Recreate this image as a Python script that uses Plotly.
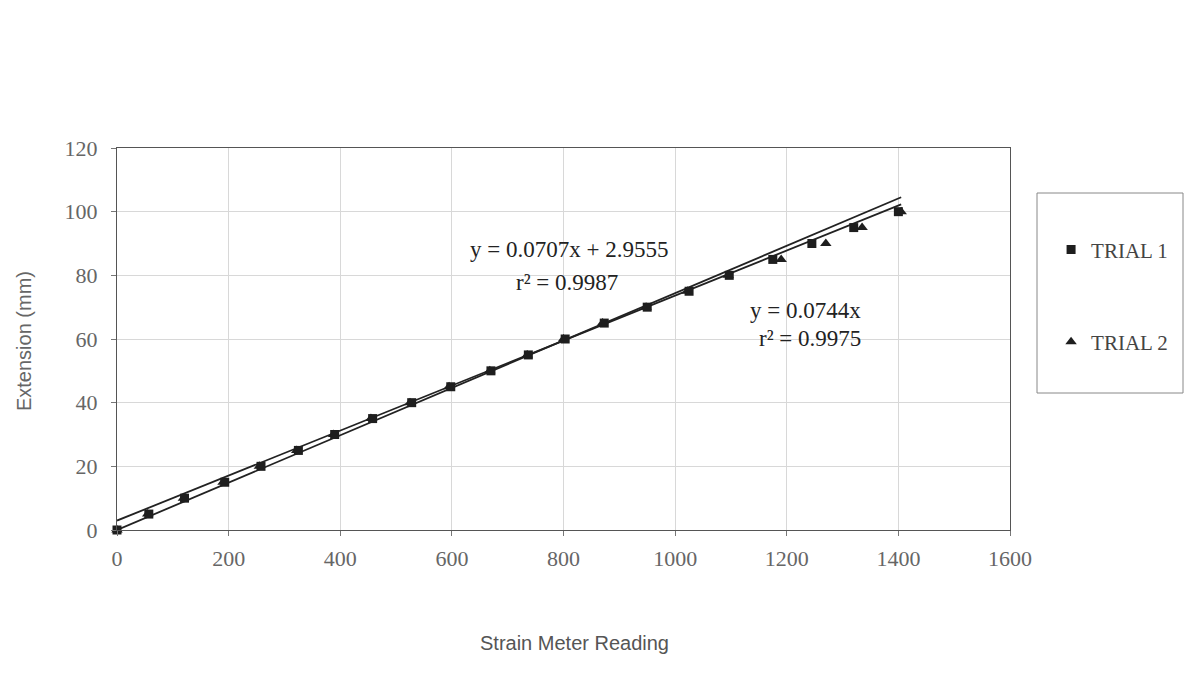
import plotly.graph_objects as go

extension = [0, 5, 10, 15, 20, 25, 30, 35, 40, 45, 50, 55, 60, 65, 70, 75, 80, 85, 90, 95, 100]
trial1_strain = [0, 57, 121, 193, 258, 325, 390, 458, 528, 598, 670, 737, 803, 873, 950, 1025, 1097, 1175, 1245, 1320, 1400]
trial2_strain = [0, 55, 119, 190, 255, 322, 388, 455, 525, 595, 668, 735, 800, 870, 948, 1022, 1095, 1190, 1270, 1335, 1405]

trend1 = {"slope": 0.0707, "intercept": 2.9555, "r2": 0.9987}
trend2 = {"slope": 0.0744, "intercept": 0.0, "r2": 0.9975}
trend_x = [0, 1405]

x_title = "Strain Meter Reading"
y_title = "Extension (mm)"

SERIF = "Liberation Serif"
SANS = "Liberation Sans"
fig = go.Figure()

for t in (trend1, trend2):
    fig.add_trace(go.Scatter(
        x=trend_x, y=[t["slope"] * v + t["intercept"] for v in trend_x],
        mode="lines", line=dict(color="#222", width=1.8),
        showlegend=False, hoverinfo="skip"))

fig.add_trace(go.Scatter(
    x=trial2_strain, y=extension, mode="markers", name="TRIAL 2",
    marker=dict(symbol="triangle-up", size=10, color="#1e1e1e"),
    legendgroup="b", legendrank=2, cliponaxis=False))
fig.add_trace(go.Scatter(
    x=trial1_strain, y=extension, mode="markers", name="TRIAL 1",
    marker=dict(symbol="square", size=9, color="#1e1e1e"),
    legendgroup="a", legendrank=1, cliponaxis=False))

ann_font = dict(family=SERIF, size=23, color="#222")
def eq_ann(x, y, text):
    fig.add_annotation(x=x, y=y, xref="x", yref="y", showarrow=False,
                       xanchor="center", yanchor="middle", text=text, font=ann_font)

eq_ann(810, 88.0, f"y = {trend1['slope']}x + {trend1['intercept']}")
eq_ann(806, 77.6, f"r² = {trend1['r2']}")
eq_ann(1233, 69.1, f"y = {trend2['slope']}x")
eq_ann(1242, 60.3, f"r² = {trend2['r2']}")

# axis titles
fig.add_annotation(x=0.512, y=-0.296, xref="paper", yref="paper", showarrow=False,
                   xanchor="center", yanchor="middle",
                   text=x_title, font=dict(family=SANS, size=20, color="#555"))
fig.add_annotation(x=-0.104, y=0.495, xref="paper", yref="paper", showarrow=False,
                   xanchor="center", yanchor="middle",
                   text=y_title, textangle=-90,
                   font=dict(family=SANS, size=20, color="#666"))

# legend frame
fig.add_shape(type="rect", xref="paper", yref="paper",
              x0=(1037 - 117) / 893, x1=(1183 - 117) / 893,
              y0=(530 - 393) / 382, y1=(530 - 193) / 382,
              line=dict(color="#888", width=1), fillcolor="rgba(0,0,0,0)")

fig.update_layout(
    width=1200, height=673,
    margin=dict(l=109, r=198, t=140, b=151, autoexpand=False),
    paper_bgcolor="white", plot_bgcolor="white",
    font=dict(family=SERIF, color="#555"),
    showlegend=True,
    legend=dict(x=1.046, y=0.787, xanchor="left", yanchor="top",
                font=dict(family=SERIF, size=21, color="#444"),
                tracegroupgap=62, traceorder="grouped",
                bgcolor="rgba(0,0,0,0)", borderwidth=0),
    xaxis=dict(range=[0, 1600], tickvals=[0, 200, 400, 600, 800, 1000, 1200, 1400, 1600],
               showgrid=True, gridcolor="#d8d8d8", gridwidth=1, automargin=False,
               showline=True, linecolor="#555", linewidth=1, mirror=True,
               ticks="outside", ticklen=5, tickcolor="#777", ticklabelstandoff=4,
               tickfont=dict(family=SERIF, size=22, color="#666"),
               zeroline=False),
    yaxis=dict(range=[0, 120], tickvals=[0, 20, 40, 60, 80, 100, 120],
               showgrid=True, gridcolor="#d8d8d8", gridwidth=1, automargin=False,
               showline=True, linecolor="#555", linewidth=1, mirror=True,
               ticks="outside", ticklen=5, tickcolor="#777", ticklabelstandoff=9,
               tickfont=dict(family=SERIF, size=22, color="#666"),
               zeroline=False),
)

fig.write_html("out.html")
